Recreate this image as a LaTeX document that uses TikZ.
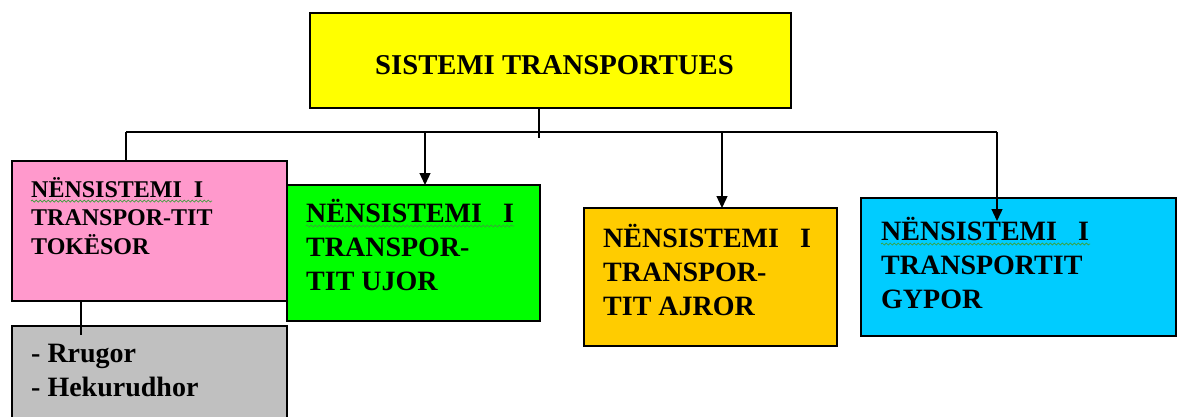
\documentclass[tikz,border=0pt]{standalone}
\usepackage{fontspec}
\setmainfont{Liberation Serif}[BoldFont={Liberation Serif Bold}]
\usetikzlibrary{arrows.meta,decorations.pathmorphing}
\definecolor{cyellow}{HTML}{FFFF00}
\definecolor{cpink}{HTML}{FF99CC}
\definecolor{cgreen}{HTML}{00FF00}
\definecolor{corange}{HTML}{FFCC00}
\definecolor{cblue}{HTML}{00CCFF}
\definecolor{cgray}{HTML}{C0C0C0}
\definecolor{csquig}{HTML}{3CA03C}
\begin{document}
\begin{tikzpicture}[x=1pt,y=-1pt,
  box/.style={draw=black, line width=1.3pt, anchor=north west, inner sep=0pt, outer sep=0pt, rectangle},
  txt/.style={anchor=north west, inner sep=0pt, align=left, font=\fontsize{28}{34}\selectfont\bfseries},
  conn/.style={draw=black, line width=1.3pt},
  arr/.style={conn, -{Triangle[length=12pt,width=11pt]}},
  squig/.style={draw=csquig, line width=0.7pt, decorate, decoration={snake, amplitude=1pt, segment length=4pt}}]
\clip (0,0) rectangle (1178,416);
\fill[white] (0,0) rectangle (1178,416);
% boxes
\node[box, fill=cyellow, minimum width=481pt, minimum height=95pt] (sys) at (310,13) {};
\node[box, fill=cpink, minimum width=275pt, minimum height=140pt] (pink) at (12,161) {};
\node[box, fill=cgreen, minimum width=253pt, minimum height=136pt] (green) at (287,185) {};
\node[box, fill=corange, minimum width=253pt, minimum height=138pt] (orange) at (584,208) {};
\node[box, fill=cblue, minimum width=315pt, minimum height=138pt] (blue) at (861,198) {};
\node[box, fill=cgray, minimum width=275pt, minimum height=110pt] (gray) at (12,326) {};
% texts
\node[anchor=base west, inner sep=0pt, font=\fontsize{28.7}{32}\selectfont\bfseries] (title) at (375,74) {SISTEMI TRANSPORTUES};
\node[txt, font=\fontsize{24}{28.5}\selectfont\bfseries] (tpink) at (31,171) {\rule{0pt}{26pt}NËNSISTEMI\ \ I\\TRANSPOR-TIT\\TOKËSOR};
\node[txt] (tgreen) at (306,196) {\rule{0pt}{26pt}NËNSISTEMI\ \ \ I\\TRANSPOR-\\TIT UJOR};
\node[txt] (torange) at (603,221) {\rule{0pt}{26pt}NËNSISTEMI\ \ \ I\\TRANSPOR-\\TIT AJROR};
\node[txt] (tblue) at (881,214) {\rule{0pt}{26pt}NËNSISTEMI\ \ \ I\\TRANSPORTIT\\GYPOR};
\node[txt] (tgray) at (31,336) {\rule{0pt}{26pt}- Rrugor\\- Hekurudhor};
% spell-check squiggles
\draw[squig] (31,201) -- (212,201);
\draw[squig] (306,226) -- (514,226);
\draw[squig] (881,244) -- (1090,244);
% connectors
\coordinate (stem) at (539,138);
\coordinate (hl) at (126,132);
\coordinate (hr) at (997,132);
\coordinate (ag) at (425,132);
\coordinate (ao) at (722,132);
\coordinate (ab) at (997,221);
\coordinate (gl) at (81,335);
\draw[conn] (sys.south -| stem) -- (stem);
\draw[conn] (hl) -- (hr);
\draw[conn] (hl) -- (hl |- pink.north);
\draw[arr] (ag) -- (ag |- green.north);
\draw[arr] (ao) -- (ao |- orange.north);
\draw[arr] (hr) -- (ab);
\draw[conn] (gl |- pink.south) -- (gl);
\end{tikzpicture}
\end{document}
